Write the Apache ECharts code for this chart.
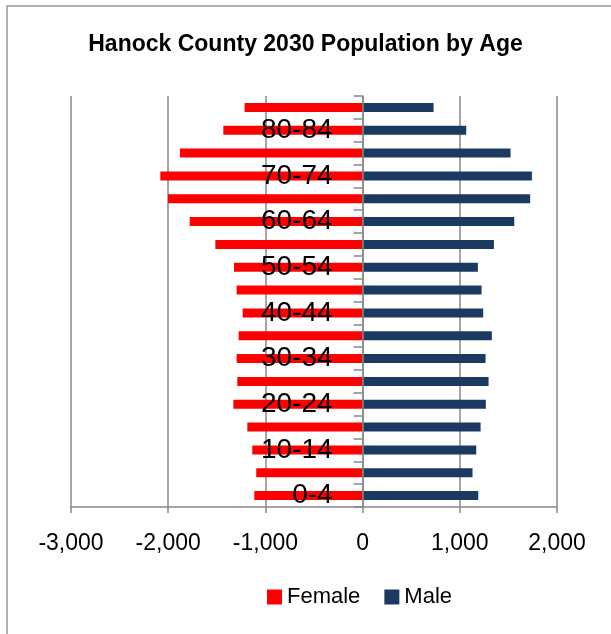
<!DOCTYPE html>
<html lang="en">
<head>
    <meta charset="utf-8">
    <title>Hanock County 2030 Population by Age</title>
    <style>
        html, body { margin: 0; padding: 0; background: #fff; }
        #main { width: 611px; height: 634px; }
    </style>
</head>
<body>
    <div id="main"></div>
    <script src="https://cdn.jsdelivr.net/npm/echarts@6/dist/echarts.min.js"></script>
    <script type="text/javascript">
        // age groups, bottom to top
        var ages = ['0-4', '5-9', '10-14', '15-19', '20-24', '25-29', '30-34', '35-39', '40-44',
            '45-49', '50-54', '55-59', '60-64', '65-69', '70-74', '75-79', '80-84', '85+'];
        // female drawn to the left, so negative
        var female = [-1114, -1094, -1135, -1186, -1330, -1289, -1296, -1275, -1234,
            -1296, -1323, -1515, -1779, -2002, -2081, -1879, -1433, -1214];
        var male = [1190, 1131, 1169, 1214, 1268, 1296, 1265, 1330, 1241,
            1224, 1186, 1351, 1560, 1724, 1742, 1522, 1066, 730];
        var xTicks = [-3000, -2000, -1000, 0, 1000, 2000];

        var gridLeft = 71, gridRight = 54;
        var plotW = 611 - gridLeft - gridRight;
        // category axis sits on x = 0, so shift it in from the left edge
        var zeroOffset = -plotW * (0 - xTicks[0]) / (xTicks[xTicks.length - 1] - xTicks[0]);

        var myChart = echarts.init(document.getElementById('main'));
        var option = {
            animation: false,
            title: {
                text: 'Hanock County 2030 Population by Age',
                left: 'center',
                top: 28,
                textStyle: {
                    fontFamily: 'Liberation Sans',
                    fontWeight: 'bold',
                    fontSize: 23,
                    color: '#000'
                }
            },
            legend: {
                data: ['Female', 'Male'],
                left: 262,
                top: 581,
                itemWidth: 15,
                itemHeight: 15,
                itemGap: 24,
                icon: 'rect',
                textStyle: {
                    fontFamily: 'Liberation Sans',
                    fontSize: 22,
                    color: '#000'
                }
            },
            graphic: [{
                type: 'rect',
                shape: { x: 7, y: 6, width: 700, height: 700 },
                style: { fill: null, stroke: '#999', lineWidth: 1.5 },
                silent: true
            }],
            grid: {
                left: gridLeft,
                right: gridRight,
                top: 96,
                bottom: 127,
                outerBoundsMode: 'none',
                containLabel: false
            },
            xAxis: {
                type: 'value',
                min: xTicks[0],
                max: xTicks[xTicks.length - 1],
                interval: 1000,
                axisLine: { show: true, lineStyle: { color: '#888', width: 1.5 } },
                axisTick: { show: true, length: 6, lineStyle: { color: '#888', width: 1.5 } },
                axisLabel: {
                    margin: 25,
                    fontFamily: 'Liberation Sans',
                    fontSize: 23,
                    color: '#000',
                    formatter: function (v) { return v.toLocaleString('en-US'); }
                },
                splitLine: { show: true, lineStyle: { color: '#888', width: 1.5 } }
            },
            yAxis: {
                type: 'category',
                data: ages,
                z: 10,
                position: 'left',
                offset: zeroOffset,
                axisLine: { show: true, onZero: false, lineStyle: { color: '#888', width: 1.5 } },
                axisTick: { show: true, interval: 0, length: 9, lineStyle: { color: '#888', width: 1.5 } },
                axisLabel: {
                    interval: 1,
                    margin: 30,
                    fontFamily: 'Liberation Sans',
                    fontSize: 28,
                    color: '#000'
                }
            },
            series: [
                {
                    name: 'Female',
                    type: 'bar',
                    data: female,
                    barWidth: 9,
                    barGap: '-100%',
                    itemStyle: { color: '#ff0000' }
                },
                {
                    name: 'Male',
                    type: 'bar',
                    data: male,
                    barWidth: 9,
                    itemStyle: { color: '#1b3a61' }
                }
            ]
        };
        myChart.setOption(option);
    </script>
</body>
</html>
